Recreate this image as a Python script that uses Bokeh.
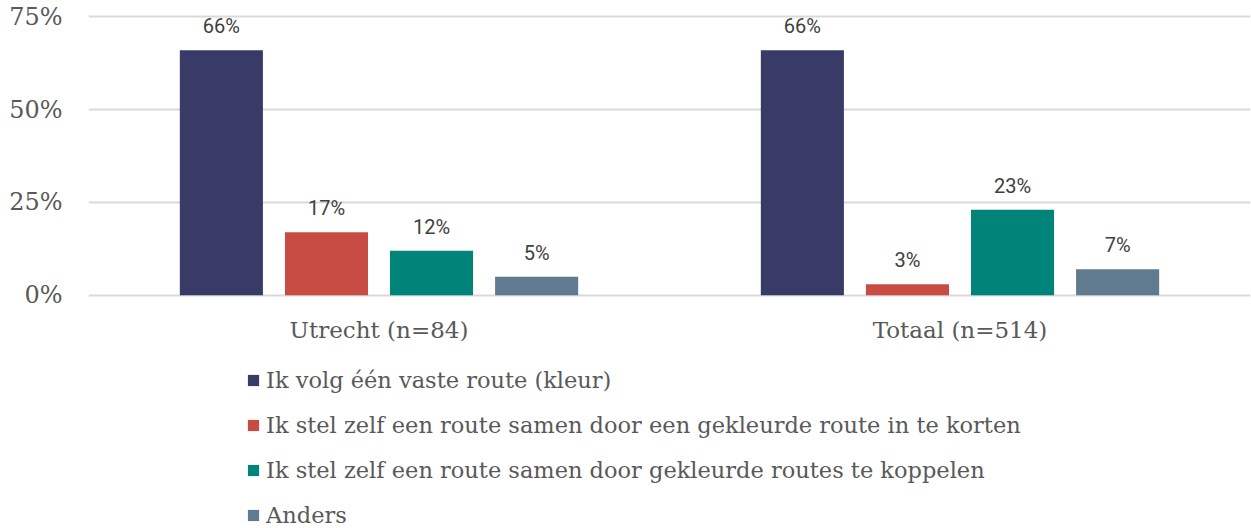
from bokeh.plotting import figure
from bokeh.models import ColumnDataSource, FixedTicker, Legend, LegendItem
from bokeh.layouts import column
from bokeh.transform import dodge
from bokeh.core.properties import value
from bokeh.embed import file_html
from bokeh.resources import INLINE

categories = ["Utrecht (n=84)", "Totaal (n=514)"]
series_names = [
    "Ik volg één vaste route (kleur)",
    "Ik stel zelf een route samen door een gekleurde route in te korten",
    "Ik stel zelf een route samen door gekleurde routes te koppelen",
    "Anders",
]
vaste_route = [66, 66]
inkorten = [17, 3]
koppelen = [12, 23]
anders = [5, 7]
y_ticks = [0, 25, 50, 75]
y_tick_labels = ["0%", "25%", "50%", "75%"]

colors = ["#383B66", "#C84C44", "#00847A", "#607B8F"]
series_values = [vaste_route, inkorten, koppelen, anders]
offsets = [-0.2713, -0.0904, 0.0904, 0.2713]
bar_w = 0.143

# main chart
p = figure(
    x_range=categories, y_range=(-0.6, 75.6),
    width=1251, height=350,
    output_backend="svg", toolbar_location=None,
    min_border_left=88, min_border_right=1,
    min_border_top=14, min_border_bottom=53,
)
p.outline_line_color = None
p.background_fill_color = "white"
p.border_fill_color = "white"
p.x_range.range_padding = 0

# legend strip (its own frame), bars there lie outside its visible range
pl = figure(
    x_range=categories, y_range=(1000, 1001),
    width=1251, height=178,
    output_backend="svg", toolbar_location=None,
    x_axis_type=None, y_axis_type=None,
    min_border_left=0, min_border_right=0, min_border_top=0, min_border_bottom=0,
)
pl.outline_line_color = None
pl.xgrid.grid_line_color = None
pl.ygrid.grid_line_color = None
pl.background_fill_color = "white"
pl.border_fill_color = "white"

items = []
for name, vals, col, off in zip(series_names, series_values, colors, offsets):
    src = ColumnDataSource(dict(cat=categories, val=vals,
                                lab=[f"{v}%" for v in vals]))
    p.vbar(x=dodge("cat", off, range=p.x_range), top="val", width=bar_w,
           source=src, fill_color=col, line_color=None)
    p.text(x=dodge("cat", off, range=p.x_range), y="val", text="lab", source=src,
           text_align="center", text_baseline="alphabetic", y_offset=-24,
           text_font=value("Roboto"), text_font_size="20px", text_color="#404040")
    rl = pl.vbar(x=dodge("cat", off, range=pl.x_range), top="val", width=bar_w,
                 source=src, fill_color=col, line_color=None)
    items.append(LegendItem(label=name, renderers=[rl]))

legend = Legend(items=items, location=(158, 0), orientation="vertical",
                glyph_width=14, glyph_height=14, label_height=22, spacing=19,
                label_standoff=6, padding=0, margin=0,
                border_line_color=None, background_fill_alpha=0,
                label_text_font="DejaVu Serif", label_text_font_size="22.5px",
                label_text_color="#595959")
pl.add_layout(legend, "center")

p.yaxis.ticker = FixedTicker(ticks=y_ticks)
p.yaxis.major_label_overrides = dict(zip(y_ticks, y_tick_labels))
p.yaxis.axis_line_color = None
p.yaxis.major_tick_line_color = None
p.yaxis.minor_tick_line_color = None
p.yaxis.major_label_standoff = 20
p.yaxis.major_label_text_font = "DejaVu Serif"
p.yaxis.major_label_text_font_size = "24px"
p.yaxis.major_label_text_color = "#595959"

p.xaxis.axis_line_color = None
p.xaxis.major_tick_line_color = None
p.xaxis.minor_tick_line_color = None
p.xaxis.major_label_standoff = 13
p.xaxis.major_label_text_font = "DejaVu Serif"
p.xaxis.major_label_text_font_size = "23px"
p.xaxis.major_label_text_color = "#595959"

p.xgrid.grid_line_color = None
p.ygrid.grid_line_color = "#D9D9D9"
p.ygrid.grid_line_width = 2

layout = column(p, pl, spacing=0)
open("out.html", "w").write(file_html(layout, INLINE))
